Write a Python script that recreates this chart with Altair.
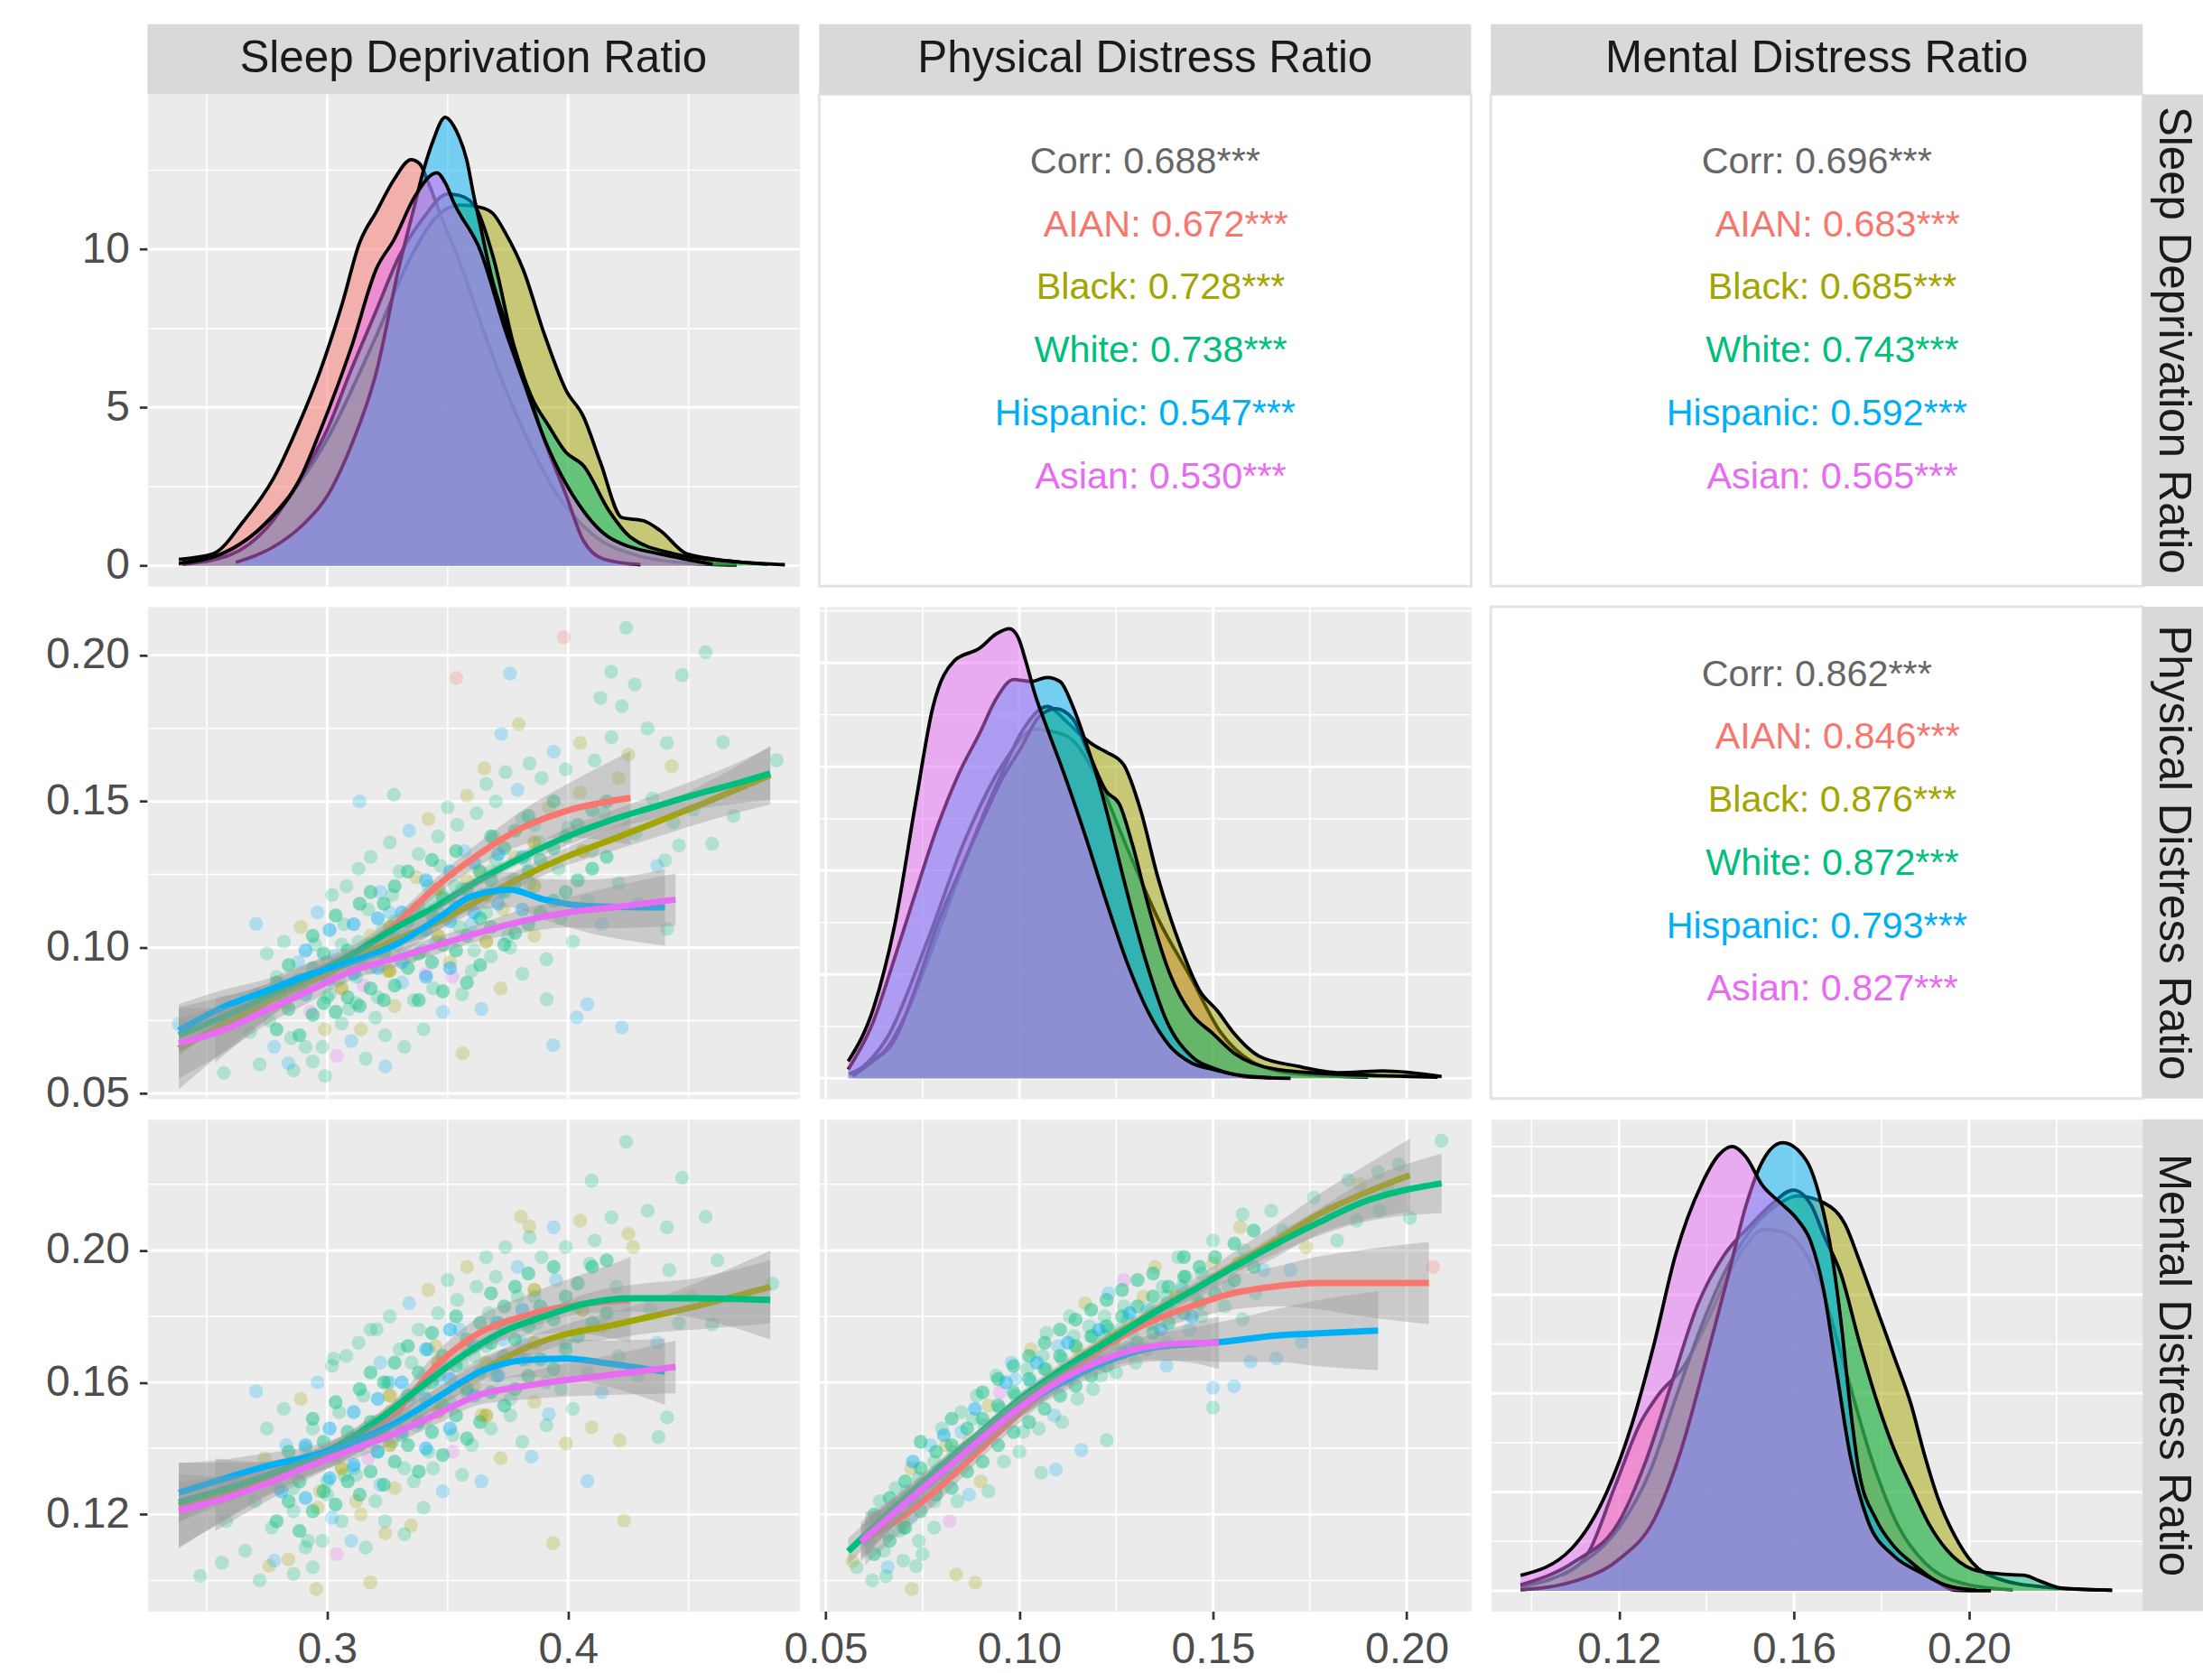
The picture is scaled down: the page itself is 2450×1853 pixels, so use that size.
import altair as alt
import pandas as pd

# ---------------- categories / labels ----------------
GROUPS = ["AIAN", "Black", "White", "Hispanic", "Asian"]
COLORS = ["#F8766D", "#A3A500", "#00BF7D", "#00B0F6", "#E76BF3"]
CODE = {"I": "AIAN", "B": "Black", "W": "White", "H": "Hispanic", "A": "Asian"}
VARS = ["Sleep Deprivation Ratio", "Physical Distress Ratio", "Mental Distress Ratio"]

# ---------------- axis limits and breaks ----------------
sleep_dom = [0.2254, 0.4960]
phys_dom = [0.0483, 0.2166]
ment_dom = [0.0907, 0.2397]
dens_sleep_dom = [-0.645, 14.90]
dens_phys_dom = [-0.98, 22.70]
dens_ment_dom = [-1.03, 23.88]

sleep_major = [0.3, 0.4]
sleep_minor = [0.25, 0.35, 0.45]
phys_major = [0.05, 0.10, 0.15, 0.20]
phys_minor = [0.075, 0.125, 0.175]
ment_major = [0.12, 0.16, 0.20]
ment_minor = [0.10, 0.14, 0.18, 0.22]
dens1_major = [0, 5, 10]
dens1_minor = [2.5, 7.5, 12.5]
dens_major = [0, 5, 10, 15, 20]
dens_minor = [2.5, 7.5, 12.5, 17.5, 22.5]

# ---------------- correlations (overall, then groups) ----------------
corr_sp = ["0.688", "0.672", "0.728", "0.738", "0.547", "0.530"]
corr_sm = ["0.696", "0.683", "0.685", "0.743", "0.592", "0.565"]
corr_pm = ["0.862", "0.846", "0.876", "0.872", "0.793", "0.827"]

# ---------------- densities: Sleep Deprivation Ratio ----------------
sleep_dens_x = {
    "AIAN": [0.2384, 0.2527, 0.2652, 0.2777, 0.2884, 0.2973, 0.3063, 0.3134, 0.3205, 0.3277, 0.3348, 0.3384, 0.342, 0.348, 0.355, 0.365, 0.375, 0.385, 0.395, 0.41, 0.43, 0.45, 0.47],
    "Black": [0.24, 0.26, 0.28, 0.30, 0.32, 0.335, 0.345, 0.355, 0.3634, 0.3688, 0.3741, 0.3813, 0.3902, 0.3991, 0.4063, 0.4134, 0.4223, 0.4313, 0.4384, 0.4491, 0.4616, 0.483],
    "White": [0.24, 0.26, 0.275, 0.29, 0.30, 0.31, 0.32, 0.33, 0.34, 0.35, 0.355, 0.3616, 0.3688, 0.3777, 0.3848, 0.392, 0.3991, 0.4063, 0.417, 0.4259, 0.4438, 0.4705, 0.49],
    "Hispanic": [0.262, 0.28, 0.29, 0.30, 0.31, 0.32, 0.33, 0.336, 0.340, 0.3438, 0.349, 0.3525, 0.3545, 0.358, 0.3607, 0.3634, 0.368, 0.3777, 0.39, 0.3991, 0.4063, 0.415, 0.43],
    "Asian": [0.2384, 0.2563, 0.2741, 0.2884, 0.2973, 0.31, 0.3205, 0.3277, 0.3366, 0.3455, 0.349, 0.3527, 0.3634, 0.3741, 0.3813, 0.3902, 0.4045, 0.417, 0.4438, 0.46],
}
sleep_dens_y = {
    "AIAN": [0.2, 0.38, 1.4, 2.76, 4.5, 6.2, 8.3, 10.2, 11.2, 12.2, 12.83, 12.7, 12.1, 10.9, 9.6, 7.4, 5.4, 3.7, 2.3, 1.0, 0.3, 0.08, 0.02],
    "Black": [0.1, 0.5, 1.8, 4.0, 7.2, 9.8, 11.0, 11.4, 11.33, 11.13, 10.5, 9.37, 7.3, 5.55, 4.72, 3.27, 1.52, 1.42, 1.1, 0.38, 0.2, 0.05],
    "White": [0.05, 0.35, 1.2, 2.9, 4.3, 6.2, 8.0, 9.8, 11.0, 11.75, 11.7, 11.33, 9.78, 6.89, 5.34, 4.41, 3.58, 3.17, 1.73, 0.9, 0.38, 0.12, 0.03],
    "Hispanic": [0.1, 0.7, 1.3, 2.2, 3.8, 6.0, 9.5, 11.3, 12.5, 13.4, 14.17, 13.9, 13.6, 12.8, 11.75, 10.8, 9.2, 6.89, 4.0, 2.24, 0.8, 0.2, 0.03],
    "Asian": [0.07, 0.38, 1.31, 2.7, 4.3, 6.9, 9.4, 10.3, 11.7, 12.42, 12.1, 11.45, 9.99, 7.4, 5.86, 4.0, 1.93, 0.9, 0.28, 0.05],
}

# ---------------- densities: Physical Distress Ratio ----------------
phys_dens_x = {
    "AIAN": [0.058, 0.066, 0.076, 0.086, 0.096, 0.104, 0.112, 0.12, 0.128, 0.136, 0.1444, 0.152, 0.16, 0.17, 0.19],
    "Black": [0.056, 0.061, 0.066, 0.071, 0.076, 0.081, 0.086, 0.0905, 0.095, 0.101, 0.1072, 0.112, 0.116, 0.1195, 0.1225, 0.1269, 0.1313, 0.1357, 0.1411, 0.1466, 0.151, 0.1554, 0.1619, 0.1718, 0.1827, 0.1937, 0.209],
    "White": [0.0569, 0.062, 0.0678, 0.0733, 0.0788, 0.0842, 0.0897, 0.0952, 0.1007, 0.105, 0.1094, 0.1138, 0.118, 0.1225, 0.1258, 0.1291, 0.1335, 0.1389, 0.1444, 0.1499, 0.1554, 0.1663, 0.1827, 0.199, 0.208],
    "Hispanic": [0.0558, 0.062, 0.0678, 0.0733, 0.0788, 0.0842, 0.0897, 0.0941, 0.0985, 0.103, 0.1072, 0.1105, 0.1138, 0.1171, 0.1204, 0.1237, 0.1269, 0.1324, 0.1379, 0.1444, 0.151, 0.16, 0.17],
    "Asian": [0.0558, 0.0624, 0.0678, 0.0733, 0.0777, 0.0832, 0.0897, 0.0941, 0.0974, 0.0996, 0.1018, 0.1039, 0.1072, 0.1116, 0.1171, 0.1225, 0.128, 0.1335, 0.1389, 0.1444, 0.1499, 0.1554, 0.165],
}
phys_dens_y = {
    "AIAN": [0.3, 2.0, 6.5, 11.5, 15.2, 16.8, 16.5, 14.5, 11.0, 7.6, 4.8, 2.2, 0.8, 0.25, 0.05],
    "Black": [0.2, 0.7, 1.5, 3.2, 5.5, 8.0, 10.5, 12.6, 14.5, 16.8, 17.9, 17.2, 16.5, 16.0, 15.7, 15.1, 12.9, 9.7, 6.6, 4.2, 3.27, 2.16, 1.06, 0.58, 0.27, 0.35, 0.08],
    "White": [0.11, 0.8, 1.85, 4.4, 7.4, 9.8, 12.1, 14.3, 16.0, 17.4, 17.8, 17.3, 15.6, 13.8, 13.2, 11.3, 8.15, 5.0, 3.1, 2.16, 1.21, 0.43, 0.19, 0.1, 0.05],
    "Hispanic": [0.43, 2.6, 5.8, 9.0, 12.1, 14.6, 16.6, 18.3, 19.2, 19.1, 19.3, 19.1, 17.9, 16.2, 14.3, 12.0, 9.6, 5.8, 2.8, 1.06, 0.43, 0.05, 0.0],
    "Asian": [0.82, 3.42, 7.37, 13.36, 17.9, 20.1, 20.7, 21.4, 21.64, 21.25, 19.98, 18.56, 16.83, 14.62, 11.62, 8.47, 5.47, 3.1, 1.53, 0.74, 0.43, 0.19, 0.03],
}

# ---------------- densities: Mental Distress Ratio ----------------
ment_dens_x = {
    "AIAN": [0.107, 0.113, 0.119, 0.125, 0.1289, 0.1349, 0.1409, 0.1449, 0.149, 0.153, 0.157, 0.161, 0.166, 0.172, 0.178, 0.184, 0.19, 0.2, 0.21],
    "Black": [0.0975, 0.11, 0.12, 0.127, 0.133, 0.139, 0.145, 0.151, 0.1565, 0.1608, 0.1668, 0.1718, 0.1748, 0.1788, 0.1828, 0.1868, 0.1898, 0.1928, 0.1968, 0.2007, 0.2067, 0.2167, 0.2327],
    "White": [0.0975, 0.11, 0.12, 0.126, 0.132, 0.138, 0.144, 0.15, 0.155, 0.1598, 0.164, 0.1668, 0.1708, 0.1748, 0.1788, 0.1828, 0.1868, 0.1908, 0.1948, 0.2007, 0.2067, 0.2127, 0.2167, 0.2217, 0.2327],
    "Hispanic": [0.0975, 0.11, 0.12, 0.128, 0.134, 0.14, 0.145, 0.149, 0.1529, 0.1574, 0.1628, 0.1658, 0.1688, 0.1708, 0.1728, 0.1748, 0.1788, 0.1828, 0.1868, 0.1928, 0.1968, 0.205],
    "Asian": [0.0975, 0.109, 0.117, 0.1229, 0.1279, 0.1329, 0.1389, 0.1429, 0.1459, 0.1489, 0.1529, 0.1569, 0.1608, 0.1638, 0.1668, 0.1698, 0.1728, 0.1768, 0.1828, 0.1888, 0.1948, 0.2017],
}
ment_dens_y = {
    "AIAN": [0.78, 1.94, 5.25, 8.56, 9.9, 11.4, 14.0, 16.0, 17.5, 18.3, 18.2, 17.6, 15.5, 11.0, 6.5, 3.2, 1.4, 0.3, 0.05],
    "Black": [0.2, 1.2, 3.2, 6.0, 9.8, 13.5, 16.5, 18.5, 19.6, 20.0, 19.65, 18.5, 16.8, 14.35, 11.9, 9.4, 6.9, 4.75, 2.76, 1.44, 0.61, 0.2, 0.03],
    "White": [0.3, 1.5, 3.5, 6.5, 10.5, 14.5, 17.0, 18.5, 19.6, 20.3, 19.5, 18.0, 16.0, 12.7, 9.7, 7.2, 5.25, 3.4, 2.1, 1.1, 0.86, 0.78, 0.45, 0.12, 0.03],
    "Hispanic": [0.05, 0.5, 1.6, 3.6, 7.0, 11.8, 16.0, 19.5, 21.8, 22.7, 21.8, 20.0, 16.8, 13.5, 9.4, 6.1, 3.6, 2.27, 1.44, 0.45, 0.03, 0.0],
    "Asian": [0.78, 2.1, 4.9, 8.4, 12.4, 17.0, 20.6, 22.1, 22.5, 22.0, 20.5, 19.65, 18.8, 17.7, 15.2, 11.0, 6.9, 3.6, 1.77, 0.94, 0.28, 0.03],
}

# ---------------- smooth fits (x, fit, half-width of band) ----------------
sp_fit_x = {
    "AIAN": [0.2536, 0.27, 0.2955, 0.3098, 0.3277, 0.3455, 0.3634, 0.3813, 0.3991, 0.4259],
    "Black": [0.2384, 0.2741, 0.3098, 0.3277, 0.3455, 0.3634, 0.3813, 0.3991, 0.417, 0.4348, 0.4616, 0.4839],
    "White": [0.2384, 0.2563, 0.2741, 0.292, 0.3098, 0.3277, 0.3455, 0.3634, 0.3813, 0.3991, 0.417, 0.4348, 0.4527, 0.4705, 0.4839],
    "Hispanic": [0.2384, 0.2563, 0.2741, 0.292, 0.3098, 0.3277, 0.3455, 0.3598, 0.3759, 0.3902, 0.408, 0.4402],
    "Asian": [0.2384, 0.2563, 0.2741, 0.292, 0.3098, 0.3277, 0.3455, 0.3634, 0.3813, 0.3991, 0.417, 0.4446],
}
sp_fit_y = {
    "AIAN": [0.0717, 0.0790, 0.0918, 0.0974, 0.1075, 0.1210, 0.1322, 0.1411, 0.1467, 0.1512],
    "Black": [0.0655, 0.0812, 0.0951, 0.1024, 0.1086, 0.1164, 0.1243, 0.1310, 0.1366, 0.1423, 0.1512, 0.1590],
    "White": [0.0700, 0.0761, 0.0828, 0.0896, 0.0974, 0.1064, 0.1142, 0.1232, 0.1310, 0.1378, 0.1434, 0.1479, 0.1523, 0.1563, 0.1596],
    "Hispanic": [0.0716, 0.0794, 0.0850, 0.0906, 0.0951, 0.1007, 0.1097, 0.1175, 0.1198, 0.1164, 0.1142, 0.1137],
    "Asian": [0.0672, 0.0716, 0.0783, 0.0850, 0.0918, 0.0962, 0.1007, 0.1052, 0.1091, 0.1119, 0.1136, 0.1164],
}
sp_fit_se = {
    "AIAN": [0.011, 0.007, 0.004, 0.003, 0.003, 0.003, 0.004, 0.006, 0.009, 0.016],
    "Black": [0.014, 0.006, 0.003, 0.003, 0.003, 0.003, 0.003, 0.003, 0.004, 0.005, 0.007, 0.010],
    "White": [0.006, 0.004, 0.003, 0.002, 0.002, 0.002, 0.002, 0.002, 0.002, 0.003, 0.003, 0.004, 0.005, 0.007, 0.009],
    "Hispanic": [0.009, 0.006, 0.004, 0.004, 0.004, 0.004, 0.004, 0.005, 0.006, 0.007, 0.009, 0.013],
    "Asian": [0.012, 0.008, 0.005, 0.004, 0.003, 0.003, 0.003, 0.003, 0.004, 0.005, 0.007, 0.009],
}

sm_fit_x = {
    "AIAN": [0.2536, 0.27, 0.2955, 0.3098, 0.3277, 0.3455, 0.3634, 0.3813, 0.3991, 0.417, 0.4259],
    "Black": [0.2384, 0.2741, 0.3098, 0.3277, 0.3455, 0.3634, 0.3813, 0.3991, 0.417, 0.4348, 0.4527, 0.4839],
    "White": [0.2384, 0.2741, 0.3009, 0.3188, 0.3366, 0.3545, 0.3723, 0.3902, 0.408, 0.4259, 0.4527, 0.4839],
    "Hispanic": [0.2384, 0.2563, 0.2741, 0.292, 0.3098, 0.3277, 0.3455, 0.3634, 0.3813, 0.3991, 0.417, 0.4402],
    "Asian": [0.2384, 0.2563, 0.2741, 0.292, 0.3098, 0.3277, 0.3455, 0.3634, 0.3813, 0.3991, 0.417, 0.4446],
}
sm_fit_y = {
    "AIAN": [0.1260, 0.1290, 0.1360, 0.1415, 0.1504, 0.1652, 0.1751, 0.1800, 0.1830, 0.1845, 0.1850],
    "Black": [0.1227, 0.1306, 0.1405, 0.1474, 0.1553, 0.1632, 0.1701, 0.1746, 0.1771, 0.1800, 0.1830, 0.1889],
    "White": [0.1237, 0.1316, 0.1395, 0.1474, 0.1573, 0.1672, 0.1751, 0.1800, 0.1840, 0.1855, 0.1855, 0.1850],
    "Hispanic": [0.1266, 0.1306, 0.1345, 0.1375, 0.1415, 0.1474, 0.1553, 0.1632, 0.1667, 0.1672, 0.1657, 0.1632],
    "Asian": [0.1212, 0.1246, 0.1291, 0.1345, 0.1395, 0.1444, 0.1504, 0.1563, 0.1588, 0.1607, 0.1622, 0.1647],
}
sm_fit_se = {
    "AIAN": [0.011, 0.007, 0.004, 0.004, 0.004, 0.004, 0.005, 0.006, 0.008, 0.011, 0.013],
    "Black": [0.013, 0.005, 0.003, 0.003, 0.003, 0.003, 0.003, 0.003, 0.004, 0.005, 0.007, 0.011],
    "White": [0.006, 0.003, 0.002, 0.002, 0.002, 0.002, 0.002, 0.002, 0.003, 0.004, 0.006, 0.012],
    "Hispanic": [0.009, 0.006, 0.004, 0.003, 0.003, 0.003, 0.003, 0.004, 0.005, 0.006, 0.007, 0.010],
    "Asian": [0.011, 0.007, 0.004, 0.003, 0.003, 0.003, 0.003, 0.003, 0.004, 0.005, 0.006, 0.008],
}

pm_fit_x = {
    "AIAN": [0.0602, 0.0678, 0.0788, 0.0897, 0.1007, 0.1116, 0.1225, 0.1335, 0.1444, 0.1554, 0.1663, 0.1772, 0.1882, 0.2057],
    "Black": [0.0600, 0.0678, 0.0788, 0.0897, 0.1007, 0.1116, 0.1225, 0.1335, 0.1444, 0.1554, 0.1663, 0.1772, 0.1882, 0.2008],
    "White": [0.0558, 0.0678, 0.0788, 0.0897, 0.1007, 0.1116, 0.1225, 0.1335, 0.1444, 0.1554, 0.1663, 0.1772, 0.1882, 0.209],
    "Hispanic": [0.0591, 0.0678, 0.0788, 0.0897, 0.1007, 0.1116, 0.1225, 0.1335, 0.1444, 0.1515, 0.1663, 0.1772, 0.1926],
    "Asian": [0.0591, 0.0678, 0.0788, 0.0897, 0.1007, 0.1116, 0.1225, 0.1335, 0.1444, 0.1515],
}
pm_fit_y = {
    "AIAN": [0.1127, 0.1177, 0.1276, 0.1395, 0.1514, 0.1623, 0.1712, 0.1782, 0.1831, 0.1871, 0.1891, 0.1901, 0.1901, 0.1901],
    "Black": [0.1128, 0.1215, 0.1330, 0.1440, 0.1552, 0.1645, 0.1726, 0.1806, 0.1878, 0.1955, 0.2030, 0.2109, 0.2169, 0.2228],
    "White": [0.1088, 0.1222, 0.1336, 0.1445, 0.1554, 0.1643, 0.1722, 0.1802, 0.1876, 0.1950, 0.2020, 0.2084, 0.2144, 0.2203],
    "Hispanic": [0.1117, 0.1207, 0.1316, 0.1425, 0.1529, 0.1603, 0.1663, 0.1703, 0.1716, 0.1722, 0.1742, 0.1749, 0.1757],
    "Asian": [0.1117, 0.1207, 0.1316, 0.1425, 0.1529, 0.1613, 0.1673, 0.1708, 0.1719, 0.1720],
}
pm_fit_se = {
    "AIAN": [0.008, 0.005, 0.004, 0.003, 0.003, 0.003, 0.003, 0.003, 0.004, 0.005, 0.006, 0.008, 0.010, 0.0125],
    "Black": [0.006, 0.004, 0.003, 0.002, 0.002, 0.002, 0.002, 0.002, 0.003, 0.004, 0.005, 0.006, 0.008, 0.011],
    "White": [0.004, 0.003, 0.002, 0.0015, 0.0015, 0.0015, 0.0015, 0.0015, 0.002, 0.002, 0.003, 0.004, 0.006, 0.009],
    "Hispanic": [0.006, 0.004, 0.003, 0.003, 0.003, 0.003, 0.003, 0.004, 0.005, 0.006, 0.008, 0.010, 0.012],
    "Asian": [0.005, 0.004, 0.003, 0.003, 0.003, 0.003, 0.003, 0.004, 0.006, 0.008],
}

# ---------------- scatter points (read from the clouds) ----------------
sp_x = [0.262, 0.268, 0.271, 0.276, 0.279, 0.283, 0.285, 0.288, 0.290, 0.293, 0.295, 0.297, 0.299, 0.301, 0.303, 0.305, 0.307, 0.309, 0.311, 0.313,
        0.315, 0.317, 0.319, 0.321, 0.323, 0.325, 0.327, 0.329, 0.331, 0.333, 0.335, 0.337, 0.339, 0.341, 0.343, 0.345, 0.347, 0.349, 0.351, 0.353,
        0.355, 0.357, 0.359, 0.361, 0.363, 0.366, 0.369, 0.372, 0.375, 0.378, 0.381, 0.384, 0.388, 0.392, 0.396, 0.400, 0.405, 0.410, 0.415, 0.421,
        0.428, 0.435, 0.443, 0.452,
        0.4241, 0.3982, 0.4571, 0.4473, 0.3759, 0.3536, 0.4179, 0.4277, 0.4134, 0.4223, 0.3795, 0.4643, 0.4866, 0.4598, 0.4687, 0.4437, 0.4402,
        0.4411, 0.4223, 0.3938, 0.4036, 0.408, 0.3911, 0.3562, 0.3241, 0.2991, 0.2839, 0.2571, 0.2384, 0.2705, 0.3134, 0.3277, 0.3723, 0.3652,
        0.300, 0.306, 0.312, 0.318, 0.324, 0.328, 0.332, 0.336, 0.340, 0.344, 0.348, 0.352, 0.356, 0.360, 0.364, 0.368, 0.373, 0.377, 0.382, 0.287,
        0.272, 0.275, 0.278, 0.282, 0.286, 0.289, 0.291, 0.294, 0.296, 0.298, 0.302, 0.304, 0.306, 0.308, 0.310, 0.313, 0.314, 0.316, 0.318, 0.320,
        0.322, 0.324, 0.326, 0.328, 0.330, 0.332, 0.334, 0.336, 0.338, 0.340, 0.342, 0.344, 0.346, 0.348, 0.350, 0.352, 0.354, 0.356, 0.358, 0.360,
        0.362, 0.364, 0.366, 0.368, 0.370, 0.372, 0.374, 0.376, 0.379, 0.381, 0.384, 0.386, 0.389, 0.391, 0.394, 0.397, 0.399, 0.402, 0.405, 0.408,
        0.411, 0.414, 0.418, 0.421, 0.425, 0.429, 0.433, 0.437, 0.441, 0.446, 0.300, 0.318, 0.334, 0.346, 0.358, 0.370, 0.386, 0.326, 0.342, 0.312]
sp_y = [0.078, 0.071, 0.084, 0.075, 0.090, 0.081, 0.069, 0.095, 0.086, 0.078, 0.101, 0.091, 0.072, 0.084, 0.097, 0.089, 0.108, 0.079, 0.094, 0.102,
        0.087, 0.113, 0.098, 0.083, 0.106, 0.092, 0.118, 0.101, 0.088, 0.111, 0.097, 0.124, 0.105, 0.091, 0.116, 0.102, 0.128, 0.110, 0.095, 0.121,
        0.107, 0.133, 0.115, 0.099, 0.126, 0.112, 0.138, 0.119, 0.104, 0.131, 0.144, 0.122, 0.136, 0.148, 0.127, 0.141, 0.153, 0.133, 0.146, 0.158,
        0.139, 0.151, 0.162, 0.147,
        0.2094, 0.2062, 0.2011, 0.1932, 0.1938, 0.1922, 0.1944, 0.1900, 0.1854, 0.1826, 0.1765, 0.1703, 0.1641, 0.1355, 0.1450, 0.1428, 0.1299,
        0.1064, 0.0727, 0.0666, 0.0761, 0.0806, 0.0823, 0.0638, 0.0593, 0.0560, 0.0604, 0.0571, 0.0738, 0.1081, 0.1500, 0.1523, 0.1731, 0.1613,
        0.095, 0.101, 0.090, 0.104, 0.099, 0.109, 0.104, 0.113, 0.099, 0.109, 0.118, 0.112, 0.120, 0.108, 0.118, 0.126, 0.113, 0.123, 0.130, 0.084,
        0.060, 0.098, 0.066, 0.102, 0.058, 0.107, 0.066, 0.061, 0.112, 0.066, 0.118, 0.063, 0.074, 0.121, 0.068, 0.127, 0.072, 0.062, 0.131, 0.076,
        0.119, 0.070, 0.136, 0.080, 0.126, 0.066, 0.140, 0.082, 0.132, 0.072, 0.144, 0.086, 0.138, 0.078, 0.148, 0.090, 0.142, 0.084, 0.152, 0.092,
        0.146, 0.079, 0.156, 0.097, 0.150, 0.086, 0.160, 0.100, 0.154, 0.091, 0.163, 0.104, 0.158, 0.096, 0.167, 0.110, 0.161, 0.102, 0.170, 0.116,
        0.164, 0.108, 0.172, 0.122, 0.166, 0.115, 0.175, 0.128, 0.170, 0.135, 0.083, 0.093, 0.104, 0.112, 0.123, 0.130, 0.142, 0.112, 0.121, 0.081]
sp_g = ("WWHWWBWHWA" "WWBWHWWWBW" "AWHWWBWWHW" "WBWAWHWWBW" "WHWWBWWHWB" "WWWBWWBWWB" "WWBW"
        "WIWWHIWWWW" "BWWWWWWWHH" "HHWBHWHWHH" "HWHB"
        "WWWBWWHWWB" "WWWHWWBWWW"
        "WWHWWBWWHW" "WAWWHWBWWW" "HWWBWWHWWW" "BWWHWAWWBW" "WHWWWBWWHW" "WBWWHWWWBW" "WHWWBWWHWW" "WWHWBWWHWW")
# dense core of the cloud: (x, [y values]) by group
sp_dense = {
    "White": [(0.279, [0.072, 0.088]), (0.284, [0.079, 0.094]), (0.2885, [0.070, 0.089]), (0.294, [0.077, 0.093, 0.104]),
              (0.2985, [0.081, 0.098]), (0.3035, [0.078, 0.094, 0.111]), (0.3085, [0.083, 0.099]), (0.3135, [0.080, 0.096, 0.115]),
              (0.318, [0.086, 0.101, 0.119]), (0.3235, [0.082, 0.098, 0.115]), (0.328, [0.087, 0.103, 0.121]), (0.3335, [0.093, 0.109, 0.126]),
              (0.338, [0.082, 0.098, 0.114]), (0.3435, [0.095, 0.111, 0.130]), (0.348, [0.085, 0.101, 0.117]), (0.3535, [0.099, 0.114, 0.133]),
              (0.358, [0.088, 0.104, 0.120]), (0.3635, [0.094, 0.110, 0.126]), (0.368, [0.107, 0.123, 0.138]), (0.3735, [0.101, 0.119, 0.134]),
              (0.378, [0.105, 0.122, 0.140]), (0.3835, [0.108, 0.126, 0.145]), (0.3885, [0.112, 0.130]), (0.394, [0.116, 0.134, 0.150]),
              (0.399, [0.119, 0.138]), (0.404, [0.123, 0.142]), (0.410, [0.127, 0.147]), (0.416, [0.131, 0.150])],
    "Hispanic": [(0.281, [0.083]), (0.291, [0.084, 0.099]), (0.301, [0.089, 0.106]), (0.311, [0.091, 0.108]), (0.321, [0.093, 0.110]),
                 (0.331, [0.095, 0.112]), (0.341, [0.090, 0.106, 0.123]), (0.351, [0.093, 0.109, 0.126]), (0.361, [0.112, 0.129]),
                 (0.371, [0.115, 0.132]), (0.381, [0.113, 0.131])],
    "Black": [(0.306, [0.086]), (0.326, [0.092, 0.107]), (0.346, [0.104, 0.120]), (0.366, [0.102, 0.118]), (0.386, [0.121, 0.136]),
              (0.406, [0.133])],
}

sm_x = [0.258, 0.262, 0.266, 0.270, 0.274, 0.277, 0.280, 0.283, 0.286, 0.289, 0.292, 0.294, 0.297, 0.300, 0.302, 0.305, 0.307, 0.310, 0.312, 0.315,
        0.317, 0.320, 0.322, 0.325, 0.327, 0.330, 0.332, 0.335, 0.337, 0.340, 0.342, 0.345, 0.347, 0.350, 0.352, 0.355, 0.358, 0.361, 0.364, 0.367,
        0.370, 0.373, 0.376, 0.379, 0.383, 0.387, 0.391, 0.395, 0.399, 0.404, 0.409, 0.414, 0.420, 0.427, 0.434, 0.442, 0.451, 0.462,
        0.4241, 0.4473, 0.4098, 0.4571, 0.3804, 0.3839, 0.4848, 0.4598, 0.4411, 0.4375, 0.4214, 0.4080, 0.4232, 0.3938, 0.3179, 0.2955, 0.2759,
        0.2473, 0.2563, 0.2839, 0.3241, 0.3348, 0.3848, 0.3991, 0.3920, 0.4098, 0.2705, 0.3027, 0.3205,
        0.300, 0.306, 0.311, 0.316, 0.321, 0.326, 0.331, 0.336, 0.341, 0.346, 0.351, 0.356, 0.361, 0.366, 0.371, 0.376, 0.381, 0.286, 0.291, 0.296,
        0.272, 0.275, 0.278, 0.282, 0.286, 0.289, 0.291, 0.294, 0.296, 0.298, 0.302, 0.304, 0.306, 0.308, 0.310, 0.313, 0.314, 0.316, 0.318, 0.320,
        0.322, 0.324, 0.326, 0.328, 0.330, 0.332, 0.334, 0.336, 0.338, 0.340, 0.342, 0.344, 0.346, 0.348, 0.350, 0.352, 0.354, 0.356, 0.358, 0.360,
        0.362, 0.364, 0.366, 0.368, 0.370, 0.372, 0.374, 0.376, 0.379, 0.381, 0.384, 0.386, 0.389, 0.391, 0.394, 0.397, 0.399, 0.402, 0.405, 0.408,
        0.411, 0.414, 0.418, 0.421, 0.425, 0.429, 0.433, 0.437, 0.441, 0.446, 0.300, 0.318, 0.334, 0.346, 0.358, 0.370, 0.386, 0.326, 0.342, 0.312]
sm_y = [0.118, 0.131, 0.109, 0.124, 0.137, 0.116, 0.128, 0.141, 0.121, 0.133, 0.112, 0.146, 0.127, 0.138, 0.119, 0.151, 0.132, 0.143, 0.124, 0.156,
        0.137, 0.148, 0.129, 0.160, 0.142, 0.153, 0.134, 0.166, 0.147, 0.158, 0.139, 0.171, 0.152, 0.163, 0.144, 0.176, 0.157, 0.168, 0.150, 0.181,
        0.162, 0.173, 0.155, 0.186, 0.167, 0.178, 0.160, 0.191, 0.172, 0.183, 0.196, 0.177, 0.189, 0.201, 0.182, 0.194, 0.186, 0.197,
        0.2329, 0.2220, 0.2211, 0.2102, 0.2102, 0.2072, 0.1899, 0.1776, 0.1494, 0.1434, 0.1425, 0.1301, 0.1182, 0.1113, 0.0994, 0.0974, 0.1044,
        0.1014, 0.1054, 0.1064, 0.1143, 0.1167, 0.1375, 0.1415, 0.1504, 0.1464, 0.1573, 0.1672, 0.1761,
        0.130, 0.140, 0.134, 0.146, 0.139, 0.151, 0.144, 0.156, 0.149, 0.161, 0.154, 0.166, 0.159, 0.171, 0.166, 0.178, 0.172, 0.128, 0.140, 0.122,
        0.100, 0.146, 0.106, 0.152, 0.102, 0.155, 0.110, 0.104, 0.160, 0.112, 0.165, 0.108, 0.118, 0.168, 0.112, 0.172, 0.120, 0.110, 0.176, 0.124,
        0.166, 0.118, 0.180, 0.128, 0.170, 0.114, 0.184, 0.130, 0.176, 0.122, 0.188, 0.134, 0.181, 0.127, 0.191, 0.139, 0.185, 0.132, 0.195, 0.141,
        0.189, 0.130, 0.198, 0.146, 0.192, 0.137, 0.201, 0.150, 0.195, 0.142, 0.204, 0.154, 0.198, 0.147, 0.207, 0.158, 0.201, 0.152, 0.209, 0.163,
        0.203, 0.157, 0.210, 0.168, 0.205, 0.162, 0.212, 0.172, 0.207, 0.178, 0.126, 0.142, 0.155, 0.162, 0.170, 0.178, 0.186, 0.160, 0.170, 0.132]
sm_g = ("WHWWBWWHWA" "WWBWHWWWBW" "AWHWWBWWHW" "WBWAWHWWBW" "WHWWBWWHWB" "WWWBWWBW"
        "WWWWBBWWWW" "BHBBBBBWWB" "BBHBHBHWW"
        "WWHWWBWWWH" "WWBWWWHWWB"
        "WWHWWBWWHW" "WAWWHWBWWW" "HWWBWWHWWW" "BWWHWAWWBW" "WHWWWBWWHW" "WBWWHWWWBW" "WHWWBWWHWW" "WWHWBWWHWW")
sm_dense = {
    "White": [(0.279, [0.118, 0.132]), (0.284, [0.124, 0.139]), (0.2885, [0.115, 0.130]), (0.294, [0.121, 0.136, 0.149]),
              (0.2985, [0.127, 0.142]), (0.3035, [0.123, 0.138, 0.154]), (0.3085, [0.130, 0.145]), (0.3135, [0.126, 0.141, 0.158]),
              (0.318, [0.133, 0.148, 0.163]), (0.3235, [0.129, 0.144, 0.160]), (0.328, [0.136, 0.151, 0.166]), (0.3335, [0.141, 0.156, 0.171]),
              (0.338, [0.133, 0.148, 0.163]), (0.3435, [0.145, 0.160, 0.175]), (0.348, [0.138, 0.153, 0.168]), (0.3535, [0.150, 0.165, 0.180]),
              (0.358, [0.143, 0.158, 0.173]), (0.3635, [0.148, 0.163, 0.178]), (0.368, [0.157, 0.172, 0.187]), (0.3735, [0.153, 0.168, 0.183]),
              (0.378, [0.158, 0.173, 0.189]), (0.3835, [0.162, 0.177, 0.193]), (0.3885, [0.167, 0.183]), (0.394, [0.164, 0.179, 0.195]),
              (0.399, [0.170, 0.186]), (0.404, [0.174, 0.190]), (0.410, [0.178, 0.195]), (0.416, [0.181, 0.197])],
    "Hispanic": [(0.281, [0.127]), (0.291, [0.125, 0.141]), (0.301, [0.131, 0.146]), (0.311, [0.135, 0.151]), (0.321, [0.139, 0.155]),
                 (0.331, [0.145, 0.160]), (0.341, [0.140, 0.155, 0.170]), (0.351, [0.146, 0.161, 0.176]), (0.361, [0.156, 0.171]),
                 (0.371, [0.162, 0.178]), (0.381, [0.167, 0.182])],
    "Black": [(0.306, [0.134]), (0.326, [0.141, 0.156]), (0.346, [0.151, 0.166]), (0.366, [0.150, 0.166]), (0.386, [0.172, 0.188]),
              (0.406, [0.182])],
}

pm_x = [0.058, 0.061, 0.063, 0.065, 0.067, 0.069, 0.071, 0.072, 0.074, 0.076, 0.078, 0.079, 0.081, 0.083, 0.085, 0.086, 0.088, 0.090, 0.092, 0.093,
        0.095, 0.097, 0.099, 0.100, 0.102, 0.104, 0.106, 0.108, 0.110, 0.112, 0.114, 0.116, 0.118, 0.120, 0.122, 0.124, 0.127, 0.129, 0.132, 0.134,
        0.137, 0.140, 0.143, 0.146, 0.150, 0.154, 0.158, 0.163, 0.168, 0.174, 0.180, 0.187, 0.195,
        0.209, 0.1926, 0.1849, 0.2008, 0.2068, 0.1576, 0.1663, 0.1729, 0.1576, 0.150, 0.150, 0.1554, 0.1597, 0.0722, 0.0837, 0.0886, 0.0656,
        0.0569, 0.0733, 0.1094, 0.1056, 0.1225, 0.116, 0.138,
        0.075, 0.079, 0.083, 0.087, 0.091, 0.095, 0.099, 0.103, 0.107, 0.111, 0.115, 0.119, 0.123, 0.128, 0.133, 0.138, 0.070, 0.066, 0.142, 0.147,
        0.062, 0.064, 0.066, 0.068, 0.070, 0.072, 0.074, 0.075, 0.077, 0.078, 0.080, 0.082, 0.084, 0.085, 0.087, 0.089, 0.090, 0.092, 0.094, 0.096,
        0.098, 0.100, 0.101, 0.103, 0.105, 0.107, 0.109, 0.111, 0.113, 0.115, 0.117, 0.119, 0.121, 0.123, 0.125, 0.127, 0.130, 0.133, 0.135, 0.138,
        0.141, 0.144, 0.147, 0.150, 0.153, 0.157, 0.161, 0.165, 0.170, 0.176, 0.182, 0.188, 0.193, 0.198, 0.086, 0.094, 0.102, 0.110, 0.118, 0.126,
        0.134, 0.142, 0.150, 0.158, 0.166, 0.078, 0.070, 0.106, 0.122, 0.138]
pm_y = [0.104, 0.112, 0.118, 0.109, 0.121, 0.115, 0.127, 0.119, 0.131, 0.124, 0.136, 0.128, 0.141, 0.133, 0.145, 0.137, 0.149, 0.141, 0.153, 0.146,
        0.157, 0.150, 0.161, 0.153, 0.164, 0.157, 0.168, 0.160, 0.171, 0.163, 0.174, 0.166, 0.177, 0.169, 0.180, 0.172, 0.183, 0.175, 0.186, 0.178,
        0.189, 0.181, 0.192, 0.185, 0.196, 0.189, 0.200, 0.194, 0.206, 0.201, 0.212, 0.209, 0.219,
        0.2332, 0.2238, 0.2213, 0.2099, 0.1950, 0.2109, 0.1673, 0.1722, 0.1792, 0.1584, 0.1524, 0.1588, 0.1663, 0.0974, 0.1018, 0.0993, 0.1013,
        0.1058, 0.1043, 0.1336, 0.1326, 0.1425, 0.1395, 0.1650,
        0.129, 0.133, 0.139, 0.142, 0.147, 0.152, 0.156, 0.160, 0.164, 0.167, 0.170, 0.174, 0.176, 0.179, 0.182, 0.186, 0.118, 0.114, 0.189, 0.193,
        0.100, 0.124, 0.104, 0.128, 0.106, 0.134, 0.112, 0.108, 0.141, 0.116, 0.146, 0.118, 0.124, 0.151, 0.126, 0.156, 0.130, 0.127, 0.162, 0.136,
        0.166, 0.139, 0.145, 0.170, 0.146, 0.175, 0.150, 0.148, 0.180, 0.155, 0.184, 0.158, 0.162, 0.187, 0.163, 0.191, 0.166, 0.170, 0.195, 0.172,
        0.198, 0.176, 0.180, 0.203, 0.183, 0.207, 0.187, 0.212, 0.194, 0.216, 0.203, 0.220, 0.212, 0.226, 0.140, 0.148, 0.156, 0.162, 0.168, 0.176,
        0.182, 0.188, 0.191, 0.197, 0.202, 0.124, 0.116, 0.158, 0.174, 0.184]
pm_g = ("WWHWBWWHWA" "WWBWHWWWBW" "AWHWWBWWHW" "WBWAWHWWBW" "WHWWBWWHWB" "WWW"
        "WWWWIWHHWH" "WHHBBBWBWH" "WWHH"
        "WWWBWWWHWW" "BWWWHWBWWW"
        "WWHWWBWWHW" "WAWWHWBWWW" "HWWBWWHWWW" "BWWHWAWWBW" "WHWWWBWWHW" "WBWWHWWWBW" "WHWWBWWHWW")
pm_dense = {
    "White": [(0.0625, [0.108, 0.120]), (0.0665, [0.112, 0.125]), (0.0705, [0.116, 0.130]), (0.0745, [0.121, 0.134, 0.142]),
              (0.0785, [0.126, 0.139]), (0.0825, [0.128, 0.141, 0.149]), (0.0865, [0.133, 0.146]), (0.0905, [0.136, 0.149, 0.157]),
              (0.0945, [0.141, 0.153, 0.161]), (0.0985, [0.145, 0.157, 0.165]), (0.1025, [0.148, 0.161, 0.168]), (0.1065, [0.152, 0.164, 0.172]),
              (0.1105, [0.156, 0.168, 0.176]), (0.1145, [0.159, 0.171, 0.179]), (0.1185, [0.162, 0.174, 0.182]), (0.1225, [0.165, 0.177, 0.185]),
              (0.1265, [0.169, 0.180, 0.188]), (0.1305, [0.172, 0.183, 0.191]), (0.1345, [0.175, 0.186, 0.193]), (0.1385, [0.178, 0.189]),
              (0.1425, [0.181, 0.192, 0.198]), (0.1465, [0.184, 0.195]), (0.1505, [0.187, 0.198]), (0.1555, [0.191, 0.202]),
              (0.1605, [0.195, 0.206])],
    "Hispanic": [(0.0645, [0.117]), (0.0725, [0.124, 0.136]), (0.0805, [0.132, 0.144]), (0.0885, [0.140, 0.152]), (0.0965, [0.149, 0.160]),
                 (0.1045, [0.156, 0.166]), (0.1125, [0.161, 0.172]), (0.1205, [0.166, 0.176]), (0.1285, [0.170, 0.181]), (0.1365, [0.176]),
                 (0.1445, [0.180])],
    "Black": [(0.0765, [0.130]), (0.0925, [0.145]), (0.1085, [0.160]), (0.1245, [0.173]), (0.1405, [0.186]), (0.1565, [0.196])],
}

# ---------------- styling ----------------
W, H = 725, 547
FONT = "Liberation Sans"
STRIP_H = 78
STRIP_W = 67
STRIP_FS = 49.5
CORR_FS = 41.5
POINT_SIZE = 240
one = pd.DataFrame({"a": [0]})


def axis_left(values, fmt):
    return alt.Axis(values=values, format=fmt, grid=False, domain=False, ticks=True, tickSize=9,
                    tickWidth=2.7, tickColor="#333333", labelFontSize=48, labelColor="#4D4D4D",
                    labelFont=FONT, labelPadding=11, labelFlush=False, labelOverlap=False,
                    title=None, minExtent=113)


def axis_bottom(values, fmt):
    return alt.Axis(values=values, format=fmt, grid=False, domain=False, ticks=True, tickSize=9,
                    tickWidth=2.7, tickColor="#333333", labelFontSize=48, labelColor="#4D4D4D",
                    labelFont=FONT, labelPadding=10, labelFlush=False, labelOverlap=False,
                    title=None)


def encoders(xdom, ydom, xaxis=None, yaxis=None):
    xs = alt.Scale(domain=xdom, nice=False, zero=False)
    ys = alt.Scale(domain=ydom, nice=False, zero=False)

    def X(f):
        return alt.X(f, type="quantitative", scale=xs, axis=xaxis)

    def Y(f):
        return alt.Y(f, type="quantitative", scale=ys, axis=yaxis)
    return X, Y


def grid(X, Y, xmaj, xmin, ymaj, ymin):
    v = pd.DataFrame({"x": list(xmin) + list(xmaj), "w": [1.6] * len(xmin) + [3.0] * len(xmaj)})
    h = pd.DataFrame({"y": list(ymin) + list(ymaj), "w": [1.6] * len(ymin) + [3.0] * len(ymaj)})
    return [
        alt.Chart(v).mark_rule(color="white").encode(x=X("x"), strokeWidth=alt.StrokeWidth("w:Q", scale=None)),
        alt.Chart(h).mark_rule(color="white").encode(y=Y("y"), strokeWidth=alt.StrokeWidth("w:Q", scale=None)),
    ]


def density_layers(X, Y, xs, ds):
    out = []
    for g, c in zip(GROUPS, COLORS):
        df = pd.DataFrame({"x": xs[g], "y": ds[g]})
        out.append(alt.Chart(df).mark_area(color=c, opacity=0.5, clip=True, interpolate="monotone").encode(
            x=X("x"), y=Y("y"), y2=alt.Y2Datum(0)))
        out.append(alt.Chart(df).mark_line(color="black", strokeWidth=3.8, clip=True, interpolate="monotone").encode(
            x=X("x"), y=Y("y")))
    return out


def scatter_layers(X, Y, px, py, pg, dense, fx, fy, fse):
    cscale = alt.Scale(domain=GROUPS, range=COLORS)
    pts = pd.DataFrame({"x": px, "y": py, "g": [CODE[c] for c in pg]})
    dx_, dy_, dg_ = [], [], []
    for g, cols in dense.items():
        for xv, yl in cols:
            for yv in yl:
                dx_.append(xv)
                dy_.append(yv)
                dg_.append(g)
    core = pd.DataFrame({"x": dx_, "y": dy_, "g": dg_})
    out = [
        alt.Chart(pts).mark_circle(size=POINT_SIZE, opacity=0.25, clip=True).encode(
            x=X("x"), y=Y("y"), color=alt.Color("g:N", scale=cscale, legend=None)),
        alt.Chart(core).mark_circle(size=POINT_SIZE, opacity=0.45, clip=True).encode(
            x=X("x"), y=Y("y"), color=alt.Color("g:N", scale=cscale, legend=None)),
    ]
    for g, c in zip(GROUPS, COLORS):
        df = pd.DataFrame({"x": fx[g], "y": fy[g],
                           "lo": [a - b for a, b in zip(fy[g], fse[g])],
                           "hi": [a + b for a, b in zip(fy[g], fse[g])]})
        out.append(alt.Chart(df).mark_area(color="#999999", opacity=0.4, clip=True, interpolate="monotone").encode(
            x=X("x"), y=Y("lo"), y2=alt.Y2("hi")))
        out.append(alt.Chart(df).mark_line(color=c, strokeWidth=7, clip=True, interpolate="monotone").encode(
            x=X("x"), y=Y("y")))
    return out


def text_layers(vals):
    keys = ["Corr"] + GROUPS
    width = max(len(g) for g in GROUPS)
    labels = ["Corr: " + vals[0] + "***"] + [g + ": " + v + "***" for g, v in zip(GROUPS, vals[1:])]
    # GGally pads group names with leading spaces to equal length, then centres the line
    pads = [0] + [width - len(g) for g in GROUPS]
    colors = ["#666666"] + COLORS
    yscale = alt.Scale(type="point", domain=keys, range=[76, 426], padding=0)
    out = []
    for k, lab, p, c in zip(keys, labels, pads, colors):
        df = pd.DataFrame({"k": [k], "label": [lab]})
        out.append(alt.Chart(df).mark_text(fontSize=CORR_FS, font=FONT, baseline="middle", align="center",
                                           color=c, dx=p * 0.2778 * CORR_FS / 2).encode(
            x=alt.XDatum(0.5, type="quantitative", scale=alt.Scale(domain=[0, 1]), axis=None),
            y=alt.Y("k:N", scale=yscale, axis=None),
            text="label:N"))
    return out


def top_strip(label):
    r = alt.Chart(one).mark_rect(color="#D9D9D9").encode(
        x=alt.value(0), x2=alt.value(W), y=alt.value(-STRIP_H), y2=alt.value(0))
    t = alt.Chart(one).mark_text(fontSize=STRIP_FS, font=FONT, color="#1A1A1A", baseline="middle", align="center").encode(
        x=alt.value(W / 2), y=alt.value(-STRIP_H / 2), text=alt.value(label))
    return [r, t]


def right_strip(label):
    r = alt.Chart(one).mark_rect(color="#D9D9D9").encode(
        x=alt.value(W), x2=alt.value(W + STRIP_W), y=alt.value(0), y2=alt.value(H))
    t = alt.Chart(one).mark_text(fontSize=STRIP_FS, font=FONT, color="#1A1A1A", baseline="middle", align="center",
                                 angle=90).encode(
        x=alt.value(W + STRIP_W / 2), y=alt.value(H / 2), text=alt.value(label))
    return [r, t]


white_view = alt.ViewBackground(fill="white", stroke="#E3E3E3", strokeWidth=3)

# ---- row 1
X, Y = encoders(sleep_dom, dens_sleep_dom, None, axis_left(dens1_major, "d"))
p11 = alt.layer(*grid(X, Y, sleep_major, sleep_minor, dens1_major, dens1_minor),
                *density_layers(X, Y, sleep_dens_x, sleep_dens_y),
                *top_strip(VARS[0])).properties(width=W, height=H)
p12 = alt.layer(*text_layers(corr_sp), *top_strip(VARS[1])).properties(width=W, height=H, view=white_view)
p13 = alt.layer(*text_layers(corr_sm), *top_strip(VARS[2]), *right_strip(VARS[0])).properties(
    width=W, height=H, view=white_view)

# ---- row 2
X, Y = encoders(sleep_dom, phys_dom, None, axis_left(phys_major, ".2f"))
p21 = alt.layer(*grid(X, Y, sleep_major, sleep_minor, phys_major, phys_minor),
                *scatter_layers(X, Y, sp_x, sp_y, sp_g, sp_dense, sp_fit_x, sp_fit_y, sp_fit_se)).properties(width=W, height=H)
X, Y = encoders(phys_dom, dens_phys_dom, None, None)
p22 = alt.layer(*grid(X, Y, phys_major, phys_minor, dens_major, dens_minor),
                *density_layers(X, Y, phys_dens_x, phys_dens_y)).properties(width=W, height=H)
p23 = alt.layer(*text_layers(corr_pm), *right_strip(VARS[1])).properties(width=W, height=H, view=white_view)

# ---- row 3
X, Y = encoders(sleep_dom, ment_dom, axis_bottom(sleep_major, ".1f"), axis_left(ment_major, ".2f"))
p31 = alt.layer(*grid(X, Y, sleep_major, sleep_minor, ment_major, ment_minor),
                *scatter_layers(X, Y, sm_x, sm_y, sm_g, sm_dense, sm_fit_x, sm_fit_y, sm_fit_se)).properties(width=W, height=H)
X, Y = encoders(phys_dom, ment_dom, axis_bottom(phys_major, ".2f"), None)
p32 = alt.layer(*grid(X, Y, phys_major, phys_minor, ment_major, ment_minor),
                *scatter_layers(X, Y, pm_x, pm_y, pm_g, pm_dense, pm_fit_x, pm_fit_y, pm_fit_se)).properties(width=W, height=H)
X, Y = encoders(ment_dom, dens_ment_dom, axis_bottom(ment_major, ".2f"), None)
p33 = alt.layer(*grid(X, Y, ment_major, ment_minor, dens_major, dens_minor),
                *density_layers(X, Y, ment_dens_x, ment_dens_y),
                *right_strip(VARS[2])).properties(width=W, height=H)

chart = alt.concat(p11, p12, p13, p21, p22, p23, p31, p32, p33,
                   columns=3, spacing={"row": 23, "column": 22}, bounds="flush").properties(
    padding={"left": 42, "top": 13, "right": 0, "bottom": 0}
).configure(font=FONT).configure_view(fill="#EBEBEB", stroke="transparent")

chart.save("out.html", embed_options={"renderer": "svg", "actions": False})
